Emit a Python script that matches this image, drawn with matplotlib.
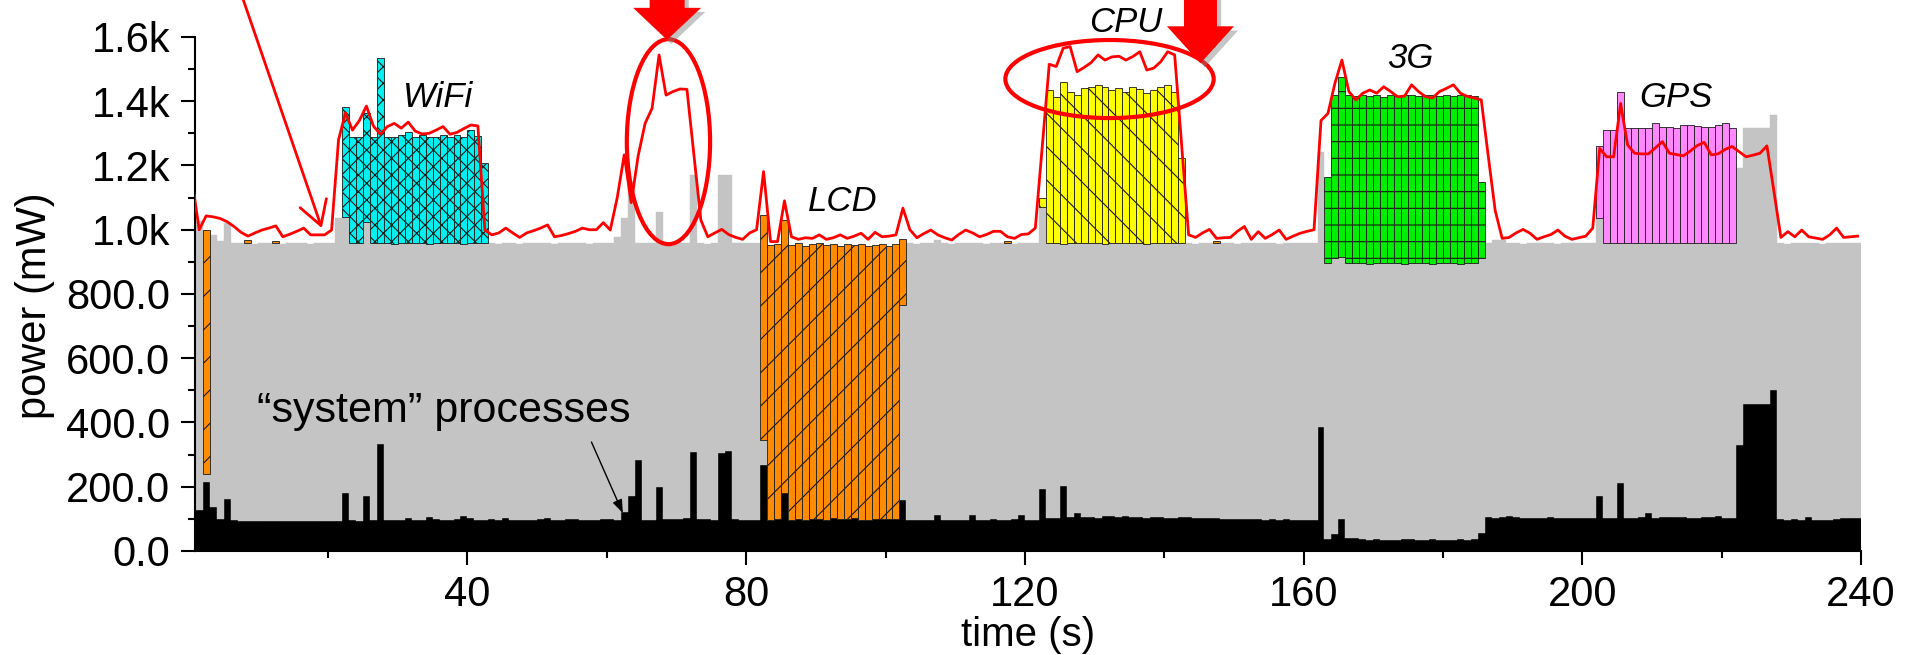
import numpy as np
import matplotlib
matplotlib.use("Agg")
import matplotlib.pyplot as plt
from matplotlib.patches import Ellipse, Polygon
import matplotlib.transforms as mtransforms
import matplotlib.patheffects as pe

plt.rcParams['font.family'] = ['Liberation Sans', 'DejaVu Sans']
plt.rcParams['hatch.linewidth'] = 0.8

# one sample per second, bar i covers [i-1, i]
# "system" processes (black), mW
system = [
    128, 128, 215, 138, 100, 162, 95, 93, 93, 94, 93, 93, 94, 93, 93, 94, 93, 94, 93, 94,
    93, 94, 180, 95, 94, 170, 95, 333, 95, 96, 98, 104, 96, 97, 105, 100, 98, 96, 100, 110,
    104, 98, 97, 100, 98, 104, 97, 96, 98, 97, 100, 103, 97, 96, 99, 101, 97, 96, 98, 100,
    99, 96, 120, 172, 284, 97, 98, 198, 100, 101, 99, 102, 308, 100, 99, 98, 305, 310, 100, 97,
    96, 95, 267, 97, 100, 182, 98, 100, 97, 99, 101, 98, 103, 99, 100, 102, 98, 97, 100, 99,
    100, 99, 160, 96, 97, 98, 97, 112, 98, 97, 98, 97, 112, 98, 97, 99, 98, 97, 99, 111,
    98, 97, 193, 102, 104, 203, 106, 118, 105, 107, 104, 110, 108, 106, 109, 107, 105, 104, 107, 106,
    104, 103, 106, 105, 104, 103, 104, 102, 101, 100, 99, 100, 101, 99, 98, 100, 98, 99, 98, 97,
    98, 97, 385, 38, 52, 100, 42, 42, 36, 35, 36, 35, 34, 35, 36, 37, 35, 34, 36, 35,
    34, 35, 36, 35, 37, 56, 105, 104, 106, 110, 105, 103, 104, 102, 103, 106, 104, 103, 102, 103,
    104, 102, 172, 103, 104, 212, 103, 104, 105, 118, 104, 105, 106, 107, 105, 104, 103, 106, 105, 108,
    104, 103, 330, 456, 456, 456, 456, 500, 100, 98, 99, 97, 106, 98, 97, 98, 101, 104, 103, 104,
]

# top of the grey "rest of phone" bar (0 = no grey in that second)
other_top = [
    1028, 1028, 240, 985, 965, 1022, 960, 958, 958, 957, 959, 958, 958, 957, 958, 959, 958, 957, 958, 958,
    958, 1035, 1040, 958, 958, 1025, 958, 958, 958, 957, 958, 959, 958, 958, 957, 958, 958, 959, 958, 957,
    958, 958, 958, 958, 957, 959, 958, 956, 958, 958, 959, 958, 957, 958, 958, 959, 958, 957, 958, 960,
    958, 976, 1036, 1147, 958, 958, 958, 1056, 958, 958, 958, 958, 1170, 958, 957, 958, 1170, 1170, 958, 958,
    958, 958, 344, 0, 0, 0, 0, 0, 0, 0, 0, 0, 0, 0, 0, 0, 0, 0, 0, 0,
    0, 0, 766, 958, 957, 958, 959, 968, 958, 957, 958, 958, 959, 958, 957, 958, 958, 958, 957, 958,
    958, 959, 1072, 958, 958, 957, 958, 958, 959, 958, 958, 957, 958, 958, 959, 958, 958, 957, 958, 958,
    958, 959, 958, 958, 957, 958, 958, 959, 958, 958, 957, 958, 958, 959, 958, 958, 957, 958, 958, 959,
    958, 958, 1243, 895, 911, 916, 895, 897, 895, 893, 895, 896, 895, 897, 893, 895, 896, 895, 894, 895,
    897, 895, 893, 896, 895, 911, 958, 968, 968, 960, 958, 957, 958, 959, 958, 958, 957, 958, 958, 959,
    958, 958, 1036, 958, 958, 958, 958, 958, 958, 958, 958, 958, 958, 958, 958, 958, 958, 958, 958, 958,
    958, 958, 1191, 1316, 1316, 1316, 1316, 1357, 958, 957, 958, 959, 958, 958, 957, 958, 958, 959, 958, 958,
]

# measured total power (red line)
total = [
    1150, 1000, 1043, 1040, 1035, 1025, 1010, 992, 980, 990, 999, 1005, 1012, 978, 986, 995, 1005, 984, 984, 984,
    999, 1280, 1364, 1310, 1340, 1385, 1323, 1297, 1321, 1331, 1316, 1335, 1307, 1298, 1300, 1310, 1321, 1297, 1303, 1315,
    1326, 1323, 999, 984, 990, 1005, 990, 976, 990, 997, 1005, 1015, 978, 982, 988, 995, 1005, 1000, 1000, 1022,
    999, 1100, 1233, 1084, 1230, 1331, 1378, 1544, 1419, 1430, 1438, 1437, 1235, 1030, 978, 990, 1001, 985, 976, 970,
    990, 1000, 1181, 963, 963, 1090, 978, 970, 975, 973, 984, 970, 975, 984, 973, 980, 989, 970, 992, 978,
    980, 984, 1067, 1000, 975, 988, 999, 984, 975, 968, 985, 999, 990, 978, 985, 995, 995, 978, 973, 985,
    987, 1005, 1260, 1515, 1508, 1565, 1570, 1492, 1505, 1520, 1544, 1528, 1538, 1540, 1528, 1539, 1554, 1497, 1503, 1523,
    1554, 1544, 1264, 984, 976, 990, 1001, 973, 975, 976, 995, 1010, 970, 994, 973, 985, 999, 970, 980, 989,
    995, 1000, 1340, 1362, 1456, 1528, 1430, 1404, 1425, 1435, 1425, 1445, 1430, 1414, 1416, 1451, 1430, 1414, 1410, 1430,
    1440, 1451, 1425, 1415, 1410, 1404, 1230, 1060, 973, 976, 990, 1001, 989, 970, 978, 985, 999, 980, 970, 975,
    980, 1005, 1253, 1227, 1227, 1393, 1264, 1238, 1236, 1236, 1255, 1274, 1238, 1234, 1230, 1245, 1262, 1272, 1233, 1236,
    1250, 1259, 1243, 1227, 1232, 1238, 1261, 1120, 976, 994, 978, 999, 978, 974, 970, 984, 1005, 976, 978, 980,
]

# component bars: first second and top of each bar
wifi_start = 23
wifi_top = [1381, 1290, 1290, 1362, 1290, 1533, 1290, 1290, 1295, 1305, 1290,
            1295, 1290, 1290, 1295, 1290, 1295, 1290, 1310, 1292, 1207]
lcd_start = 83
lcd_top = [1046, 953, 955, 1030, 953, 958, 950, 955, 958, 952, 955,
           950, 956, 953, 955, 950, 952, 955, 950, 955, 970]
lcd_bits_sec = [3, 9, 13, 118, 148]
lcd_bits_top = [1000, 968, 966, 966, 964]
cpu_start = 123
cpu_top = [1098, 1435, 1414, 1461, 1430, 1419, 1440, 1445, 1451, 1443, 1435,
           1440, 1430, 1443, 1437, 1425, 1435, 1443, 1451, 1430, 1222]
g3_start = 164
g3_top = [1165, 1420, 1476, 1419, 1415, 1418, 1415, 1418, 1412, 1418, 1415, 1420,
          1418, 1415, 1418, 1420, 1416, 1418, 1415, 1420, 1418, 1415, 1150]
gps_start = 203
gps_top = [1262, 1310, 1310, 1430, 1316, 1316, 1316, 1316, 1331, 1321,
           1321, 1316, 1326, 1326, 1323, 1321, 1321, 1326, 1331, 1316]

x = np.arange(1, 241) - 0.5
system = np.array(system, float)
base = np.maximum(np.array(other_top, float), system)

fig = plt.figure(figsize=(19.17, 6.55), dpi=100)
ax = fig.add_axes([195 / 1917, 104 / 655, (1861 - 195) / 1917, 551 / 655])

ax.bar(x, system, width=1.0, color='black', edgecolor='black', lw=0.3, zorder=2)
ax.bar(x, base - system, bottom=system, width=1.0, color='#c4c4c4',
       edgecolor='#c4c4c4', lw=0.3, zorder=2)


def component(secs, tops, color, hatch):
    idx = np.asarray(secs) - 1
    b = base[idx]
    ax.bar(x[idx], np.asarray(tops, float) - b, bottom=b, width=1.0, color=color,
           edgecolor='#1a1a1a', lw=0.6, hatch=hatch, zorder=2.5)


def run(start, tops):
    return np.arange(start, start + len(tops))


component(run(wifi_start, wifi_top), wifi_top, '#00f0f0', 'xx')
component(run(lcd_start, lcd_top), lcd_top, '#ff8c00', '/')
component(lcd_bits_sec, lcd_bits_top, '#ff8c00', '/')
component(run(cpu_start, cpu_top), cpu_top, '#ffff00', '\\')
component(run(g3_start, g3_top), g3_top, '#00ee00', '-')
component(run(gps_start, gps_top), gps_top, '#ff88ff', None)

ax.plot(x, total, color='#ff0000', lw=2.0, zorder=4)

# axes styling
ax.set_xlim(0.9, 240)
ax.set_ylim(0, 1715)
for s in ['top', 'right']:
    ax.spines[s].set_visible(False)
ax.spines['left'].set_bounds(0, 1600)
for s in ['left', 'bottom']:
    ax.spines[s].set_linewidth(1.5)
ax.set_xticks([40, 80, 120, 160, 200, 240])
ax.set_xticks(np.arange(20, 240, 40), minor=True)
ax.set_yticks(np.arange(0, 1601, 200))
ax.set_yticklabels(['0.0', '200.0', '400.0', '600.0', '800.0', '1.0k', '1.2k', '1.4k', '1.6k'])
ax.set_yticks(np.arange(100, 1600, 200), minor=True)
ax.tick_params(which='major', direction='out', length=10, width=1.5, labelsize=30)
ax.tick_params(which='minor', direction='out', length=5, width=1.5)
ax.tick_params(axis='x', pad=7)
ax.tick_params(axis='y', pad=8)
ax.set_xlabel('time (s)', fontsize=29)
ax.xaxis.set_label_coords(0.5, -0.118)
ax.set_ylabel('power (mW)', fontsize=30)
ax.yaxis.set_label_coords(-0.084, 0.445)

# component labels
lab = dict(fontsize=25, style='italic', ha='left', va='baseline', zorder=6)
ax.text(30.8, 1383, 'WiFi', **lab)
ax.text(88.9, 1059, 'LCD', **lab)
ax.text(129.2, 1614, 'CPU', **lab)
ax.text(172.0, 1502, '3G', **lab)
ax.text(208.2, 1381, 'GPS', **lab)

ax.text(9.8, 402, '\u201csystem\u201d processes', fontsize=31, ha='left', va='baseline', zorder=6)
ax.annotate('', xy=(62.3, 118), xytext=(57.8, 339),
            arrowprops=dict(arrowstyle='-|>,head_length=0.8,head_width=0.3', color='black',
                            lw=1.0, mutation_scale=10, shrinkA=0, shrinkB=0), zorder=6)

# red annotations
ax.annotate('', xy=(19.1, 1005), xytext=(7.6, 1730), annotation_clip=False,
            arrowprops=dict(arrowstyle='->,head_length=1.7,head_width=1.0', color='#ff0000',
                            lw=2.0, mutation_scale=10, shrinkA=0, shrinkB=0), zorder=6)

ax.add_patch(Ellipse((68.85, 1274), 11.95, 638, fill=False, ec='#ff0000', lw=3, zorder=5, clip_on=False))
ax.add_patch(Ellipse((132.15, 1469), 29.9, 243, fill=False, ec='#ff0000', lw=3, zorder=5, clip_on=False))


def block_arrow(t, v, head_w, head_l, shaft_w, shaft_l=60):
    hw, sw = head_w / 2, shaft_w / 2
    verts = [(0, 0), (-hw, head_l), (-sw, head_l), (-sw, head_l + shaft_l),
             (sw, head_l + shaft_l), (sw, head_l), (hw, head_l)]
    tr = mtransforms.Affine2D() + mtransforms.ScaledTranslation(t, v, ax.transData)
    poly = Polygon(verts, closed=True, transform=tr, fc='#ff0000', ec='none', clip_on=False, zorder=7,
                   path_effects=[pe.withSimplePatchShadow(offset=(3, -3), shadow_rgbFace='#808080', alpha=0.45)])
    ax.add_artist(poly)


block_arrow(68.66, 1591, 68, 32, 35)
block_arrow(145.2, 1518, 67, 37, 33)

fig.savefig('out.png', dpi=100)
